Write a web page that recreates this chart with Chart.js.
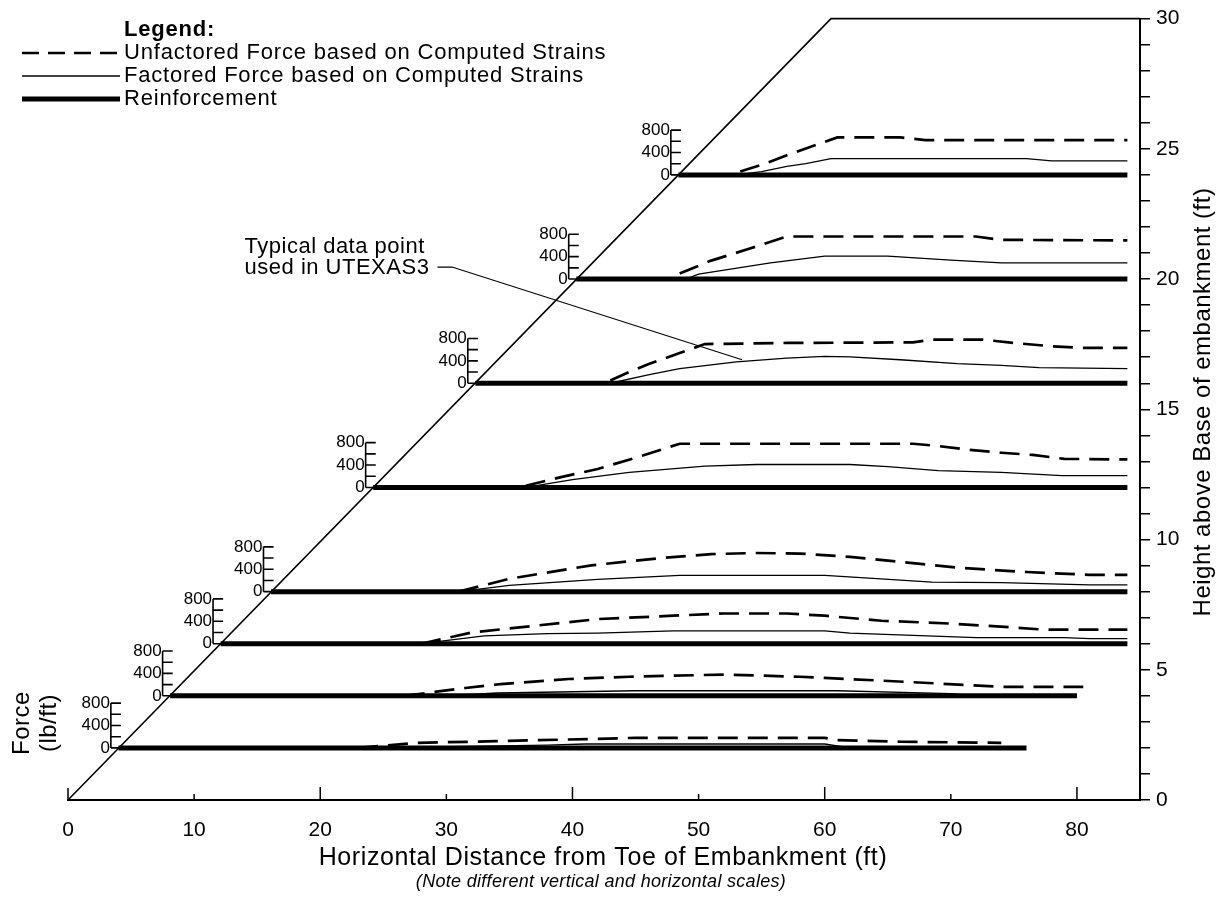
<!DOCTYPE html>
<html lang="en">
<head>
<meta charset="UTF-8">
<title>Reinforcement forces in embankment</title>
<script src="https://cdn.jsdelivr.net/npm/chart.js"></script>
<style>
    html, body { margin: 0; padding: 0; background: #fff; }
    .chart-container { position: relative; width: 1221px; height: 905px; }
</style>
</head>
<body>
<div class="chart-container">
    <canvas id="forceChart" width="1221" height="905"></canvas>
</div>
<script>
// Reinforcement layers: height (ft), start at the slope face, end (ft)
const layerHeights = [2, 4, 6, 8, 12, 16, 20, 24];
const layerStarts = [4, 8.1, 12.1, 16.1, 24.2, 32.3, 40.3, 48.4];
const layerEnds = [76, 80, 84, 84, 84, 84, 84, 84];

// Force curves, [distance (ft), force (lb/ft)]
const unfactored2 = [[23, 0], [27.7, 90], [34, 120], [41.5, 160], [45, 180], [60, 180], [61, 140], [66, 110], [74, 90]];
const factored2 = [[24, 0], [38, 50], [41, 70], [60, 70], [62, 0]];
const unfactored4 = [[26.7, 0], [31.5, 140], [34.3, 210], [39.7, 300], [44.5, 340], [52, 380], [58, 340], [60, 320], [66.4, 250], [69, 220], [74, 160], [80.5, 160]];
const factored4 = [[30, 0], [34, 50], [45, 90], [61, 90], [70, 40], [72, 0]];
const unfactored6 = [[28, 0], [32, 200], [37, 320], [42, 440], [48, 500], [52, 540], [57, 540], [60, 500], [64.5, 410], [70, 360], [75, 290], [77.5, 250], [84, 250]];
const factored6 = [[28, 0], [33, 140], [38, 180], [42, 190], [48, 230], [60, 230], [62, 190], [72, 110], [79, 110], [81, 90], [84, 90]];
const unfactored8 = [[31, 0], [35, 230], [41.5, 470], [47, 600], [51, 670], [54.5, 690], [58, 680], [62, 620], [66, 530], [71, 420], [76, 350], [81, 300], [84, 300]];
const factored8 = [[31, 0], [35, 110], [42, 220], [48.5, 290], [60, 290], [63.5, 240], [68.5, 170], [74, 160], [81, 120], [84, 120]];
const unfactored12 = [[36.3, 30], [39, 180], [42, 330], [45, 530], [48.5, 780], [67, 780], [69, 740], [71.5, 670], [74, 620], [76.5, 580], [79, 510], [84, 500]];
const factored12 = [[36.3, 0], [40, 140], [44.5, 270], [50.5, 380], [54.6, 410], [62, 410], [65, 370], [69, 300], [74, 270], [78.8, 210], [84, 210]];
const unfactored16 = [[43, 50], [44.5, 200], [46, 340], [48.5, 540], [50.5, 700], [57, 720], [67, 730], [68.5, 780], [72.5, 780], [75, 720], [78, 660], [80.5, 630], [84, 630]];
const factored16 = [[43, 0], [46, 150], [48.5, 260], [53, 380], [57, 450], [60, 480], [62, 470], [66, 420], [70.5, 350], [74, 320], [77, 280], [84, 260]];
const unfactored20 = [[48.5, 100], [51, 330], [54, 540], [57, 760], [72, 760], [74, 700], [84, 690]];
const factored20 = [[49, 0], [50, 90], [55.7, 290], [60, 410], [65, 410], [70, 340], [74, 290], [84, 290]];
const unfactored24 = [[53.3, 60], [55, 180], [57, 350], [59, 510], [61, 670], [66, 670], [68, 620], [84, 620]];
const factored24 = [[53, 0], [55, 60], [57, 150], [58.5, 200], [60.5, 290], [76, 290], [78, 250], [84, 250]];

const unfactoredCurves = [unfactored2, unfactored4, unfactored6, unfactored8, unfactored12, unfactored16, unfactored20, unfactored24];
const factoredCurves = [factored2, factored4, factored6, factored8, factored12, factored16, factored20, factored24];

// Embankment outline
const slopeX = [0, 60.5, 85];
const slopeY = [0, 30, 30];

// Leader line for the "typical data point" note
const noteX = [29.3, 30.45, 53.45];
const noteY = [20.46, 20.46, 16.9];

// Local force axes
const forceTicks = [0, 200, 400, 600, 800];
const forceLabels = [0, 400, 800];

// Main axes
const xTicks = [0, 10, 20, 30, 40, 50, 60, 70, 80];
const yTicks = [];
for (let v = 0; v <= 30; v++) yTicks.push(v);

const FONT = '"Liberation Sans", Arial, Helvetica, sans-serif';
const forceSpan = 1.72;   // ft of height drawn for 800 lb/ft
const axisOffset = 0.6;   // local axis sits a little left of the slope face
const tickLen = 0.8;      // local axis tick length (ft)

function forceToY(h, f) {
    return h + f / 800 * forceSpan;
}

const datasets = [];

datasets.push({
    data: slopeX.map((x, i) => ({ x: x, y: slopeY[i] })),
    borderColor: '#000', borderWidth: 1.6, clip: false
});

datasets.push({
    data: noteX.map((x, i) => ({ x: x, y: noteY[i] })),
    borderColor: '#000', borderWidth: 1.1, clip: false
});

layerHeights.forEach((h, i) => {
    // reinforcement
    datasets.push({
        data: [{ x: layerStarts[i], y: h }, { x: layerEnds[i], y: h }],
        borderColor: '#000', borderWidth: 5, borderCapStyle: 'butt', clip: false
    });
    // unfactored force (dashed)
    datasets.push({
        data: unfactoredCurves[i].map(p => ({ x: p[0], y: forceToY(h, p[1]) })),
        borderColor: '#000', borderWidth: 2.7, borderDash: [20, 10], clip: false
    });
    // factored force (thin solid)
    datasets.push({
        data: factoredCurves[i].map(p => ({ x: p[0], y: forceToY(h, p[1]) })),
        borderColor: '#000', borderWidth: 1.3, clip: false
    });
    // little force axis with ticks
    const ax = layerStarts[i] - axisOffset;
    const pts = [{ x: ax, y: forceToY(h, 800) }, { x: ax, y: h }, { x: ax, y: null }];
    forceTicks.forEach(f => {
        pts.push({ x: ax, y: forceToY(h, f) });
        pts.push({ x: ax + tickLen, y: forceToY(h, f) });
        pts.push({ x: ax + tickLen, y: null });
    });
    datasets.push({
        data: pts, borderColor: '#000', borderWidth: 1.6, spanGaps: false, clip: false
    });
});

const decorPlugin = {
    id: 'decor',
    afterDraw(chart) {
        const ctx = chart.ctx;
        const x = chart.scales.x;
        const y = chart.scales.y;
        ctx.save();
        ctx.fillStyle = '#000';
        ctx.strokeStyle = '#000';

        // ticks on the bottom axis point up into the plot
        ctx.lineWidth = 1.5;
        xTicks.forEach(v => {
            const px = x.getPixelForValue(v);
            const len = v === 0 ? 12 : (v % 20 === 0 ? 13 : 6);
            ctx.beginPath();
            ctx.moveTo(px, y.bottom);
            ctx.lineTo(px, y.bottom - len);
            ctx.stroke();
        });

        // labels on the little force axes
        ctx.font = '17px ' + FONT;
        ctx.textAlign = 'right';
        ctx.textBaseline = 'middle';
        layerHeights.forEach((h, i) => {
            const px = x.getPixelForValue(layerStarts[i] - axisOffset) - 1;
            forceLabels.forEach(f => {
                ctx.fillText(String(f), px, y.getPixelForValue(forceToY(h, f)));
            });
        });

        // note
        ctx.letterSpacing = '0.5px';
        ctx.font = '22px ' + FONT;
        ctx.textAlign = 'left';
        ctx.fillText('Typical data point', x.getPixelForValue(14), y.getPixelForValue(21.25));
        ctx.fillText('used in UTEXAS3', x.getPixelForValue(14), y.getPixelForValue(20.42));

        // legend
        ctx.letterSpacing = '0.8px';
        ctx.font = 'bold 22px ' + FONT;
        ctx.fillText('Legend:', 124, 30);
        ctx.font = '22px ' + FONT;
        const items = ['Unfactored Force based on Computed Strains', 'Factored Force based on Computed Strains', 'Reinforcement'];
        const widths = [2.4, 1.3, 5];
        const dashes = [[17, 9], [], []];
        items.forEach((t, k) => {
            const ly = 53 + k * 23;
            ctx.lineWidth = widths[k];
            ctx.setLineDash(dashes[k]);
            ctx.beginPath();
            ctx.moveTo(22, ly);
            ctx.lineTo(120, ly);
            ctx.stroke();
            ctx.setLineDash([]);
            ctx.fillText(t, 124, ly);
        });

        // axis titles
        ctx.textAlign = 'center';
        ctx.letterSpacing = '0.6px';
        ctx.font = '25px ' + FONT;
        ctx.fillText('Horizontal Distance from Toe of Embankment (ft)', 603, 858);
        ctx.letterSpacing = '0.3px';
        ctx.font = 'italic 18px ' + FONT;
        ctx.fillText('(Note different vertical and horizontal scales)', 601, 882);

        ctx.letterSpacing = '0.5px';
        ctx.font = '24px ' + FONT;
        ctx.save();
        ctx.translate(1203, 402);
        ctx.rotate(-Math.PI / 2);
        ctx.fillText('Height above Base of embankment (ft)', 0, 0);
        ctx.restore();

        ctx.save();
        ctx.translate(22, 723);
        ctx.rotate(-Math.PI / 2);
        ctx.fillText('Force', 0, 0);
        ctx.fillText('(lb/ft)', 0, 27);
        ctx.restore();

        ctx.letterSpacing = '0px';
        ctx.restore();
    }
};

new Chart(document.getElementById('forceChart').getContext('2d'), {
    type: 'line',
    data: { datasets: datasets },
    options: {
        responsive: false,
        animation: false,
        layout: { padding: { left: 68, top: 15, right: 0, bottom: 0 } },
        elements: { point: { radius: 0 }, line: { tension: 0 } },
        plugins: { legend: { display: false }, tooltip: { enabled: false } },
        scales: {
            x: {
                type: 'linear', min: 0, max: 85,
                afterFit: s => { s.height = 105; },
                afterBuildTicks: s => { s.ticks = xTicks.map(v => ({ value: v })); },
                grid: { display: false, drawTicks: false },
                border: { display: true, color: '#000', width: 2 },
                ticks: { color: '#000', padding: 18, maxRotation: 0, autoSkip: false, font: { size: 21, family: FONT } }
            },
            y: {
                type: 'linear', position: 'right', min: 0, max: 30,
                afterFit: s => { s.width = 81; },
                afterBuildTicks: s => { s.ticks = yTicks.map(v => ({ value: v })); },
                grid: { drawOnChartArea: false, drawTicks: true, tickLength: 10, color: '#000', lineWidth: 1.5 },
                border: { display: true, color: '#000', width: 2 },
                ticks: {
                    color: '#000', padding: 6, autoSkip: false,
                    callback: v => (v % 5 === 0 ? v : ''),
                    font: { size: 21, family: FONT }
                }
            }
        }
    },
    plugins: [decorPlugin]
});
</script>
</body>
</html>
